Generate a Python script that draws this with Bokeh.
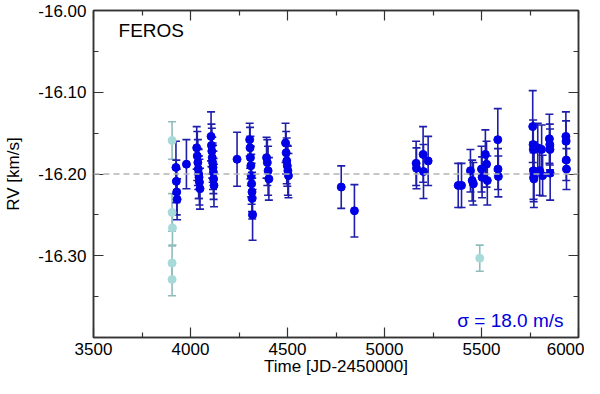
from bokeh.plotting import figure
from bokeh.models import (ColumnDataSource, Whisker, TeeHead, Span, Label, LinearAxis,
                          FixedTicker, PrintfTickFormatter, CustomJSTickFormatter, Range1d)
from bokeh.embed import file_html
from bokeh.resources import INLINE

# ---------------- data ----------------
blue_t = [3925, 3927, 3929, 3931,
          3979,
          4032, 4035, 4038, 4040, 4042, 4044, 4046, 4049,
          4106, 4108, 4110, 4112, 4114, 4116, 4118, 4119, 4121,
          4240,
          4305, 4307, 4309, 4311, 4313, 4315, 4317, 4318, 4320,
          4392, 4396, 4400, 4404,
          4490, 4493, 4496, 4499, 4502, 4505,
          4777, 4845,
          5163, 5165, 5199, 5201, 5225,
          5380, 5397,
          5443, 5452, 5458,
          5500, 5503, 5520, 5526, 5530,
          5584, 5585, 5587,
          5764, 5766, 5767, 5768, 5769, 5770,
          5790, 5800, 5810, 5815,
          5850, 5852, 5853, 5854,
          5935, 5936, 5937, 5938]
blue_rv = [-16.192, -16.209, -16.222, -16.231,
           -16.188,
           -16.168, -16.178, -16.186, -16.194, -16.200, -16.204, -16.210, -16.218,
           -16.154, -16.165, -16.172, -16.180, -16.186, -16.192, -16.198, -16.206, -16.214,
           -16.182,
           -16.158, -16.168, -16.180, -16.190, -16.202, -16.212, -16.222, -16.230, -16.250,
           -16.180, -16.186, -16.196, -16.206,
           -16.162, -16.174, -16.184, -16.190, -16.196, -16.202,
           -16.216, -16.245,
           -16.187, -16.193, -16.176, -16.197, -16.184,
           -16.214, -16.214,
           -16.196, -16.208, -16.212,
           -16.194, -16.204, -16.176, -16.188, -16.208,
           -16.158, -16.194, -16.203,
           -16.142, -16.164, -16.170, -16.196, -16.204, -16.206,
           -16.168, -16.196, -16.170, -16.202,
           -16.157, -16.164, -16.170, -16.199,
           -16.154, -16.160, -16.183, -16.194]
blue_err = [0.032, 0.026, 0.028, 0.025,
            0.030,
            0.026, 0.030, 0.028, 0.025, 0.030, 0.026, 0.028, 0.025,
            0.030, 0.026, 0.028, 0.025, 0.024, 0.027, 0.026, 0.025, 0.026,
            0.033,
            0.020, 0.025, 0.026, 0.024, 0.026, 0.025, 0.024, 0.025, 0.031,
            0.025, 0.028, 0.030, 0.026,
            0.024, 0.026, 0.028, 0.025, 0.030, 0.027,
            0.026, 0.032,
            0.027, 0.025, 0.034, 0.033, 0.030,
            0.027, 0.027,
            0.026, 0.025, 0.026,
            0.028, 0.025, 0.030, 0.028, 0.030,
            0.038, 0.025, 0.025,
            0.044, 0.030, 0.030, 0.035, 0.030, 0.035,
            0.030, 0.030, 0.030, 0.025,
            0.030, 0.025, 0.025, 0.033,
            0.030, 0.025, 0.025, 0.025]

cyan_t = [3905, 3905, 3907, 3905, 3905, 5491]
cyan_rv = [-16.159, -16.247, -16.266, -16.309, -16.329, -16.303]
cyan_err = [0.023, 0.023, 0.021, 0.021, 0.020, 0.016]

mean_rv = -16.20
x_ticks = [3500, 4000, 4500, 5000, 5500, 6000]
x_minor = [3750, 4250, 4750, 5250, 5750]
y_ticks = [-16.30, -16.20, -16.10, -16.00]
y_minor = [-16.35, -16.25, -16.15, -16.05]
instrument = "FEROS"
sigma_text = "\u03c3 = 18.0 m/s"
x_title = "Time [JD-2450000]"
y_title = "RV [km/s]"

FONT = "Liberation Sans"
AX = "#333333"
BLUE_PT = "#0000e6"
BLUE_BAR = "#1e1eaa"
CYAN_PT = "#a8dada"
CYAN_BAR = "#8fbcbc"

X0, X1 = 3500, 6000
Y0, Y1 = -16.40, -16.00

p = figure(width=584, height=378, output_backend="svg", toolbar_location=None,
           x_range=Range1d(X0, X1), y_range=Range1d(Y0, Y1),
           min_border_left=93, min_border_right=6, min_border_top=10, min_border_bottom=40)
p.grid.visible = False
p.outline_line_color = AX
p.outline_line_width = 1.5
p.background_fill_color = "white"
p.border_fill_color = "white"

def style_axis(ax):
    ax.axis_line_color = AX
    ax.axis_line_width = 1.5
    ax.major_tick_line_color = AX
    ax.minor_tick_line_color = AX
    ax.major_tick_line_width = 1.2
    ax.minor_tick_line_width = 1.2
    ax.major_tick_in = 10
    ax.major_tick_out = 0
    ax.minor_tick_in = 5
    ax.minor_tick_out = 0
    ax.major_label_text_font = FONT
    ax.major_label_text_font_size = "17px"
    ax.major_label_text_color = "black"
    ax.axis_label_text_font = FONT
    ax.axis_label_text_font_size = "17px"
    ax.axis_label_text_font_style = "normal"
    ax.axis_label_text_color = "black"

xticker = FixedTicker(ticks=x_ticks, minor_ticks=x_minor)
yticker = FixedTicker(ticks=y_ticks, minor_ticks=y_minor)

xa = p.xaxis[0]
xa.ticker = xticker
style_axis(xa)
xa.axis_label = x_title
xa.major_label_standoff = 5
xa.axis_label_standoff = -1

ya = p.yaxis[0]
ya.ticker = yticker
ya.formatter = PrintfTickFormatter(format="%.2f")
style_axis(ya)
ya.axis_label = y_title
ya.major_label_standoff = 7
ya.axis_label_standoff = 12

empty = CustomJSTickFormatter(code="return ''")
top = LinearAxis(ticker=xticker, formatter=empty)
style_axis(top)
top.major_label_standoff = 0
top.major_label_text_font_size = "0px"
p.add_layout(top, "above")
right = LinearAxis(ticker=yticker, formatter=empty)
style_axis(right)
right.major_label_standoff = 0
right.major_label_text_font_size = "0px"
p.add_layout(right, "right")

p.add_layout(Span(location=mean_rv, dimension="width", line_color="#b4b4b4",
                  line_width=1.5, line_dash="6 4"))

def add_series(t, rv, err, pt_color, bar_color):
    src = ColumnDataSource(dict(t=t, rv=rv,
                                lo=[r - e for r, e in zip(rv, err)],
                                hi=[r + e for r, e in zip(rv, err)]))
    w = Whisker(source=src, base="t", lower="lo", upper="hi", dimension="height",
                line_color=bar_color, line_width=1.6,
                upper_head=TeeHead(size=8, line_color=bar_color, line_width=1.6),
                lower_head=TeeHead(size=8, line_color=bar_color, line_width=1.6))
    p.add_layout(w)
    p.scatter("t", "rv", source=src, size=8, marker="circle",
              fill_color=pt_color, line_color=pt_color)

add_series(cyan_t, cyan_rv, cyan_err, CYAN_PT, CYAN_BAR)
add_series(blue_t, blue_rv, blue_err, BLUE_PT, BLUE_BAR)

p.add_layout(Label(x=3629, y=-16.025, text=instrument, text_font=FONT,
                   text_font_size="19px", text_color="black", text_baseline="middle"))
p.add_layout(Label(x=5923, y=-16.379, text=sigma_text, text_font=FONT,
                   text_font_size="19px", text_color="#0000dd", text_baseline="middle",
                   text_align="right"))

open("out.html", "w").write(file_html(p, INLINE))
